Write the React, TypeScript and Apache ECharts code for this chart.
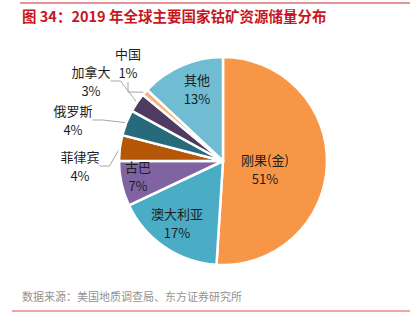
import React, { useEffect, useRef } from "react";
import * as echarts from "echarts";

const titleText = "图 34：2019 年全球主要国家钴矿资源储量分布";
const sourceText = "数据来源：美国地质调查局、东方证券研究所";
const countries = ["刚果(金)", "澳大利亚", "古巴", "菲律宾", "俄罗斯", "加拿大", "中国", "其他"];
const shares = [51, 17, 7, 4, 4, 3, 1, 13];
const colors = ["#F79646", "#4BACC6", "#8064A2", "#B65708", "#276A7C", "#4F3A62", "#FAB27C", "#6FBCD3"];
const insideNames = ["刚果(金)", "澳大利亚", "古巴", "其他"];
// label block centres (layout only)
const labelPos: Record<string, [number, number]> = {
  "刚果(金)": [265, 169],
  "澳大利亚": [177, 223],
  "古巴": [138, 176],
  "其他": [197, 89],
  "菲律宾": [80, 166],
  "俄罗斯": [73, 120],
  "加拿大": [91, 81],
  "中国": [128, 63],
};

export default function App() {
  const ref = useRef<HTMLDivElement>(null);
  useEffect(() => {
    const chart = echarts.init(ref.current!, null, { renderer: "svg" });
    const font = "'Noto Sans CJK SC', 'Noto Sans', sans-serif";
    chart.setOption({
      animation: false,
      graphic: [
        { type: "line", shape: { x1: 20, y1: 3, x2: 410, y2: 3 }, style: { stroke: "#D0262C", lineWidth: 1.2 } },
        {
          type: "text", left: 22, top: 8,
          style: { text: titleText, fill: "#C8161E", font: `bold 14.5px ${font}` },
        },
        {
          type: "text", left: 22, top: 290,
          style: { text: sourceText, fill: "#939393", font: `11px ${font}` },
        },
        { type: "line", shape: { x1: 12, y1: 311, x2: 410, y2: 311 }, style: { stroke: "#DC4E4E", lineWidth: 1.2 } },
      ],
      series: [
        {
          type: "pie",
          center: [223, 161],
          radius: [0, 104],
          startAngle: 90,
          clockwise: true,
          itemStyle: { borderColor: "#fff", borderWidth: 2.5 },
          label: {
            formatter: "{b}\n{c}%",
            fontSize: 13,
            lineHeight: 19,
            color: "#1E1E1E",
            fontFamily: font,
            align: "center",
          },
          labelLine: { show: true, lineStyle: { color: "#A6A6A6", width: 1 }, length: 10, length2: 10 },
          labelLayout: (p: any) => {
            const name = countries[p.dataIndex];
            const pos = labelPos[name];
            return { x: pos[0], y: pos[1], align: "center", verticalAlign: "middle" };
          },
          data: countries.map((n, i) => {
            const inside = insideNames.indexOf(n) >= 0;
            return {
              name: n,
              value: shares[i],
              itemStyle: { color: colors[i] },
              label: { position: inside ? "inside" : "outside" },
              labelLine: { show: !inside },
            };
          }),
        },
      ],
    });
    return () => chart.dispose();
  }, []);
  return (
    <div
      ref={ref}
      style={{ position: "fixed", left: 0, top: 0, width: 410, height: 325, background: "#fff" }}
    />
  );
}
